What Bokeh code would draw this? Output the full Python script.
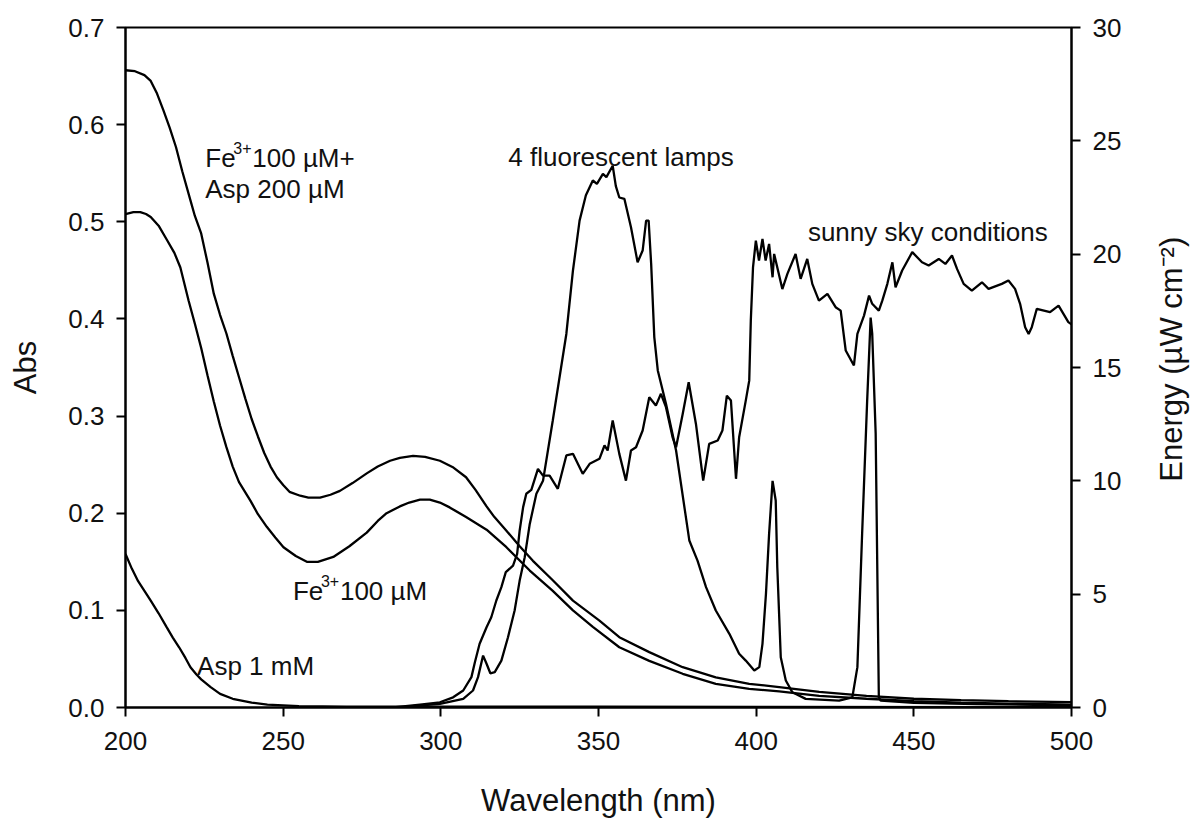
import math
from bokeh.plotting import figure
from bokeh.layouts import row
from bokeh.models import Range1d, LinearAxis, Label, FixedTicker, NumeralTickFormatter
from bokeh.embed import file_html
from bokeh.resources import INLINE

# ---------------- data ----------------
# Absorbance, Fe3+ 100 uM + Asp 200 uM
wl_fe_asp = [200, 203, 206, 208, 210, 212, 214, 216, 218, 220.6, 222, 224, 226, 228, 230, 232, 234,
             236, 238, 240, 242, 244, 246, 248, 250, 252, 255.4, 258, 261.7, 265, 268, 272, 276.5,
             280, 283.9, 287, 291.2, 295, 299.7, 304, 308, 311, 314.5, 317, 320.8, 325, 329.2,
             335.5, 341.9, 350.3, 356.6, 366.1, 376.7, 387.2, 397.8, 407.3, 420, 435, 450, 465,
             480, 500]
abs_fe_asp = [0.656, 0.655, 0.651, 0.645, 0.632, 0.615, 0.597, 0.577, 0.552, 0.522, 0.506, 0.488,
              0.458, 0.426, 0.404, 0.385, 0.362, 0.340, 0.318, 0.297, 0.279, 0.262, 0.248,
              0.237, 0.229, 0.222, 0.218, 0.216, 0.216, 0.219, 0.223, 0.231, 0.241,
              0.248, 0.254, 0.257, 0.259, 0.258, 0.254, 0.247, 0.237, 0.224, 0.207, 0.196,
              0.182, 0.166, 0.151, 0.131, 0.110, 0.0895, 0.0724, 0.057, 0.0415, 0.031, 0.0244,
              0.021, 0.016, 0.012, 0.009, 0.0075, 0.0065, 0.0055]

# Absorbance, Fe3+ 100 uM
wl_fe = [200, 202.5, 204.7, 206.5, 208, 210.5, 213.2, 215.5, 217.4, 220, 222, 224, 226, 228, 230,
         232, 234, 236, 239.6, 242, 244.8, 247.5, 250.1, 254, 257.5, 261, 265.9, 271, 276.5,
         280, 282.8, 287, 290, 293.4, 296.5, 299.7, 302.8, 308, 314.5, 320.8, 328.2, 335.5,
         341.9, 348.2, 356.6, 366.1, 376.7, 387.2, 397.8, 407.3, 420, 435, 450, 465, 480, 500]
abs_fe = [0.508, 0.510, 0.510, 0.508, 0.505, 0.496, 0.481, 0.468, 0.453, 0.419, 0.395, 0.370,
          0.342, 0.315, 0.290, 0.268, 0.248, 0.232, 0.213, 0.199, 0.186, 0.175, 0.165, 0.156,
          0.150, 0.150, 0.155, 0.166, 0.180, 0.192, 0.200, 0.207, 0.211, 0.214, 0.214, 0.211,
          0.206, 0.196, 0.183, 0.165, 0.141, 0.120, 0.100, 0.083, 0.062, 0.048, 0.0347, 0.0244,
          0.0192, 0.0165, 0.012, 0.009, 0.0065, 0.005, 0.004, 0.003]

# Absorbance, Asp 1 mM
wl_asp = [200, 202, 204, 206, 208, 210.5, 213, 215, 217, 219, 220.6, 222.5, 224, 227, 230, 234,
          240, 245, 255, 270, 300, 350, 400, 500]
abs_asp = [0.158, 0.143, 0.130, 0.120, 0.110, 0.097, 0.083, 0.072, 0.062, 0.051, 0.0415, 0.034,
           0.029, 0.021, 0.014, 0.009, 0.005, 0.003, 0.0015, 0.001, 0.001, 0.0008, 0.0005, 0.0003]

# Energy, 4 fluorescent lamps (uW cm-2)
wl_lamp = [290, 299.7, 307.1, 310.2, 311.8, 313.4, 314.5, 315.7, 317.1, 319.2, 321.3, 323.4, 325,
           326.6, 328.2, 330.3, 332.4, 335.5, 339.8, 341.9, 344, 346, 348.2, 349.5, 351.4, 352.5,
           354.5, 355.5, 356.6, 358.2, 360.3, 362.4, 364, 365.1, 365.9, 366.7, 367.7, 368.8,
           371.4, 374.6, 378.8, 381.4, 384.1, 387.2, 391.5, 394.6, 396.7, 399.4, 401, 402,
           403.1, 404.1, 405.2, 406.2, 406.7, 407.8, 409.4, 411.5, 415.7, 426.3, 430.5, 432.1,
           433.6, 435.2, 436.3, 436.8, 437.9, 438.9, 439.5, 450, 470, 500]
e_lamp = [0.05, 0.16, 0.38, 0.75, 1.34, 2.29, 1.93, 1.51, 1.56, 2.07, 3.1, 4.28, 5.6,
          6.63, 8.1, 9.43, 10.0, 12.66, 16.48, 19.28, 21.48, 22.6, 23.25, 23.1, 23.54, 23.4,
          23.9, 23.0, 22.5, 22.44, 21.19, 19.64, 20.16, 21.48, 21.48, 19.57, 16.33, 14.87,
          13.4, 11.34, 7.37, 6.48, 5.31, 4.28, 3.25, 2.37, 2.07, 1.63, 1.78, 2.81,
          5.0, 7.66, 10.0, 9.13, 6.19, 2.22, 1.19, 0.67, 0.38, 0.3, 0.45, 1.78,
          7.66, 13.54, 17.2, 16.5, 12.07, 0.45, 0.3, 0.2, 0.15, 0.1]

# Energy, sunny sky conditions (uW cm-2)
wl_sun = [285, 293.4, 299.7, 303.9, 307.1, 309.7, 310.8, 312.3, 314.5, 316, 317.6, 319.2, 320.6,
          322.9, 324.2, 325, 326.1, 327.1, 328.7, 330.8, 332.4, 334.5, 337.1, 339.8, 341.9, 345,
          347.2, 350.3, 351.9, 352.9, 354.5, 356.6, 358.7, 360.3, 361.9, 364, 366.1, 368.2,
          369.8, 371.4, 373.5, 374.6, 376.7, 378.6, 380.9, 383.2, 385.1, 387.8, 389.3, 390.7,
          392, 393.6, 394.6, 396.7, 397.8, 398.3, 399, 399.9, 400.9, 402, 403, 404.1, 405.2,
          405.7, 408.3, 409.9, 412.5, 414.1, 416.2, 417.8, 419.9, 422.6, 425.2, 426.8, 428.4,
          431, 432.1, 434.2, 435.8, 436.8, 438.9, 440, 441.6, 443.2, 444.2, 446.3, 449.5,
          452.6, 454.7, 457.9, 460, 462.1, 463.7, 465.8, 468.4, 471.6, 473.7, 477.9, 480,
          482.1, 483.7, 485.3, 486.4, 487.4, 489, 493.2, 495.9, 499, 500]
e_sun = [0.0, 0.13, 0.23, 0.45, 0.75, 1.34, 2.0, 2.81, 3.54, 3.98, 4.72, 5.31, 5.97,
         6.26, 6.78, 7.81, 8.84, 9.43, 9.6, 10.53, 10.23, 10.23, 9.65, 11.12, 11.19, 10.31,
         10.75, 10.97, 11.56, 11.34, 12.66, 11.19, 10.01, 11.34, 11.48, 12.22, 13.69, 13.32,
         13.84, 13.25, 11.92, 11.48, 12.95, 14.35, 12.51, 10.01, 11.63, 11.78, 12.22, 13.76,
         13.54, 10.09, 11.92, 13.54, 14.42, 17.07, 19.42, 20.6, 19.72, 20.67, 19.72, 20.45, 18.98,
         20.01, 18.46, 19.13, 20.01, 18.91, 19.79, 18.69, 17.95, 18.25, 17.66, 17.51, 15.75,
         15.09, 16.48, 17.29, 18.17, 17.81, 17.51, 17.95, 18.69, 19.64, 18.54, 19.28, 20.09,
         19.64, 19.5, 19.79, 19.57, 19.94, 19.35, 18.69, 18.39, 18.76, 18.47, 18.69, 18.84,
         18.47, 17.81, 16.78, 16.48, 16.78, 17.59, 17.44, 17.73, 17.0, 16.9]

x_ticks = [200, 250, 300, 350, 400, 450, 500]
abs_ticks = [0.0, 0.1, 0.2, 0.3, 0.4, 0.5, 0.6, 0.7]
energy_ticks = [0, 5, 10, 15, 20, 25, 30]

# ---------------- figure ----------------
FONT = "Liberation Sans"
TXT = "#111111"
MAIN_W = 1126
TOTAL_W = 1194
H = 820

p = figure(width=MAIN_W, height=H, output_backend="svg", toolbar_location=None,
           x_range=Range1d(200, 500), y_range=Range1d(0, 0.7),
           min_border_left=125, min_border_right=55, min_border_top=27, min_border_bottom=113,
           x_axis_location=None, y_axis_location=None)
p.extra_y_ranges = {"energy": Range1d(0, 30)}
p.grid.visible = False
p.background_fill_color = "white"
p.border_fill_color = "white"
p.outline_line_color = "black"
p.outline_line_width = 2

def style_axis(ax, ticks, label, standoff, tick_standoff):
    ax.ticker = FixedTicker(ticks=ticks)
    ax.axis_line_width = 2
    ax.axis_line_color = "black"
    ax.major_tick_line_width = 2
    ax.major_tick_line_color = "black"
    ax.major_tick_in = 0
    ax.major_tick_out = 9
    ax.minor_tick_line_color = None
    ax.major_label_text_font = FONT
    ax.major_label_text_font_size = "26px"
    ax.major_label_text_color = TXT
    ax.major_label_standoff = tick_standoff
    ax.axis_label = label
    ax.axis_label_text_font = FONT
    ax.axis_label_text_font_size = "31px"
    ax.axis_label_text_font_style = "normal"
    ax.axis_label_text_color = TXT
    ax.axis_label_standoff = standoff

xax = LinearAxis()
style_axis(xax, x_ticks, "Wavelength (nm)", 30, 15)
p.add_layout(xax, "below")

yax = LinearAxis()
style_axis(yax, abs_ticks, "Abs", 22, 12)
yax.formatter = NumeralTickFormatter(format="0.0")
p.add_layout(yax, "left")

rax = LinearAxis(y_range_name="energy")
style_axis(rax, energy_ticks, None, 0, 12)
p.add_layout(rax, "right")

LW = 2.3
p.line(wl_fe_asp, abs_fe_asp, line_color="black", line_width=LW)
p.line(wl_fe, abs_fe, line_color="black", line_width=LW)
p.line(wl_asp, abs_asp, line_color="black", line_width=LW)
p.line(wl_lamp, e_lamp, line_color="black", line_width=LW, y_range_name="energy")
p.line(wl_sun, e_sun, line_color="black", line_width=LW, y_range_name="energy")

def lab(x, y, text, size="26px", xo=0, yo=0):
    p.add_layout(Label(x=x, y=y, text=text, x_offset=xo, y_offset=yo, text_font=FONT,
                       text_font_size=size, text_color=TXT, text_align="left",
                       text_baseline="alphabetic"))

# annotations with superscripts
W_FE = 28
W_SUP = 19
lab(225.3, 0.566, "Fe")
lab(225.3, 0.566, "3+", size="16px", xo=W_FE, yo=10)
lab(225.3, 0.566, "100 µM+", xo=W_FE + W_SUP)
lab(225.3, 0.534, "Asp 200 µM")

lab(253.1, 0.1197, "Fe")
lab(253.1, 0.1197, "3+", size="16px", xo=W_FE, yo=10)
lab(253.1, 0.1197, "100 µM", xo=W_FE + W_SUP)

lab(222.7, 0.0425, "Asp 1 mM")
lab(321.4, 0.567, "4 fluorescent lamps")
lab(416.4, 0.490, "sunny sky conditions")

# right-hand axis title (reads bottom-to-top), drawn in a narrow side panel
side = figure(width=TOTAL_W - MAIN_W, height=H, output_backend="svg", toolbar_location=None,
              x_range=Range1d(MAIN_W, TOTAL_W), y_range=Range1d(H, 0),
              min_border=0, x_axis_location=None, y_axis_location=None)
side.grid.visible = False
side.outline_line_color = None
side.background_fill_color = "white"
side.border_fill_color = "white"
side.add_layout(Label(x=1171, y=400, text="Energy (µW cm⁻²)", text_font=FONT,
                      text_font_size="31px", text_color=TXT, text_align="center",
                      text_baseline="middle", angle=math.pi / 2))

layout = row(p, side, spacing=0)
open("out.html", "w").write(file_html(layout, INLINE))
